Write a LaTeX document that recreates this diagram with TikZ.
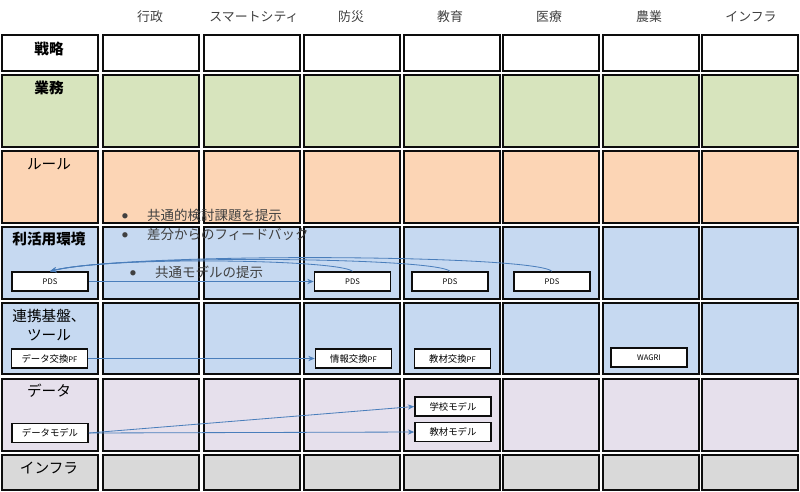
\documentclass[tikz,border=0pt]{standalone}
\usepackage{fontspec}
\setmainfont{Noto Sans CJK JP}
\usepackage{xcolor}
\usetikzlibrary{arrows.meta}
\definecolor{gridline}{HTML}{0D0D0D}
\definecolor{layerwhite}{HTML}{FFFFFF}
\definecolor{layergreen}{HTML}{D7E4BD}
\definecolor{layerorange}{HTML}{FCD5B5}
\definecolor{layerblue}{HTML}{C6D9F1}
\definecolor{layerlilac}{HTML}{E6E0EC}
\definecolor{layergray}{HTML}{D9D9D9}
\definecolor{linkblue}{HTML}{4A7EBB}
\definecolor{textgray}{HTML}{404040}

\newcommand{\smallpf}{{\fontsize{6.5}{7}\selectfont PF}}
\newcommand{\memodot}{\makebox[0.75cm][l]{\raisebox{1.5pt}{\fontsize{5}{5}\selectfont ●}}}

\begin{document}
\begin{tikzpicture}[x=0.03cm, y=-0.03cm, >={Stealth[length=5.5pt, width=4.5pt]},
                    cell/.style={draw=gridline, line width=1.8pt},
                    sectorhead/.style={textgray, font=\fontsize{11}{13}\selectfont},
                    layerhead/.style={black, align=center, font=\fontsize{12.5}{16}\selectfont},
                    strong/.style={font=\bfseries\fontsize{12.5}{16}\selectfont},
                    itembox/.style={draw=gridline, fill=white, line width=1.3pt, inner sep=0pt,
                                 minimum width=2.28cm, minimum height=0.57cm,
                                 font=\fontsize{8}{9}\selectfont},
                    latintext/.style={font=\fontsize{6.5}{7}\selectfont},
                    link/.style={linkblue, line width=0.7pt, ->},
                    memo/.style={textgray, anchor=west, inner sep=0pt,
                                 font=\fontsize{11.5}{13}\selectfont}]

  \useasboundingbox (0,0) rectangle (800,491);

  %% 層ごとのセル(7 層 × 8 列)
  \foreach \ya/\yb/\tone in {35/71/layerwhite, 75/147/layergreen, 151/223/layerorange,
                             227/299/layerblue, 303/374/layerblue, 379/451/layerlilac,
                             455/490/layergray}
    \foreach \xl in {2,103,204,304,404,503,603,702}
      \filldraw[cell, fill=\tone] (\xl,\ya) rectangle (\xl+96,\yb);

  %% 分野の見出し
  \node[sectorhead] (hdgov)   at (150,17) {行政};
  \node[sectorhead] (hdcity)  at (254,17) {スマートシティ};
  \node[sectorhead] (hdsafe)  at (351,17) {防災};
  \node[sectorhead] (hdedu)   at (450,17) {教育};
  \node[sectorhead] (hdmed)   at (549,17) {医療};
  \node[sectorhead] (hdagri)  at (649,17) {農業};
  \node[sectorhead] (hdinfra) at (751,17) {インフラ};

  %% 層の見出し
  \node[layerhead, strong] (lystrat) at (49,49)  {戦略};
  \node[layerhead, strong] (lywork)  at (49,88)  {業務};
  \node[layerhead]         (lyrule)  at (49,164) {ルール};
  \node[layerhead, strong] (lyuse)   at (49,239) {利活用環境};
  \node[layerhead]         (lybase)  at (49,325) {連携基盤、\\ツール};
  \node[layerhead]         (lydata)  at (49,391) {データ};
  \node[layerhead]         (lyinfra) at (49,468) {インフラ};

  %% 補足の箇条書き
  \node[memo] (memoa) at (122,215) {\memodot 共通的検討課題を提示};
  \node[memo] (memob) at (122,234) {\memodot 差分からのフィードバック};
  \node[memo] (memoc) at (130,272) {\memodot 共通モデルの提示};

  %% 利活用環境の PDS
  \node[itembox, latintext] (pdsgov)  at (50,281.5)    {PDS};
  \node[itembox, latintext] (pdssafe) at (352.5,281.5) {PDS};
  \node[itembox, latintext] (pdsedu)  at (450,281.5)   {PDS};
  \node[itembox, latintext] (pdsmed)  at (552,281.5)   {PDS};

  %% 連携基盤・ツール
  \node[itembox] (pfdata) at (49.5,358.5)  {データ交換\smallpf};
  \node[itembox] (pfinfo) at (353.5,358.5) {情報交換\smallpf};
  \node[itembox] (pfedu)  at (452.5,358.5) {教材交換\smallpf};
  \node[itembox, latintext] (wagri) at (649,357.5) {WAGRI};

  %% データモデル
  \node[itembox] (mdschool) at (453,406.5) {学校モデル};
  \node[itembox] (mdbook)   at (453,432)   {教材モデル};
  \node[itembox] (mddata)   at (50,433)    {データモデル};

  %% 共通モデルの提示
  \draw[link] (pdsgov.east) -- (pdssafe.west);
  \draw[link] (pfdata.east) -- (pfinfo.west);
  \draw[link] (mddata.east) -- (mdschool.west);
  \draw[link] (mddata.east) -- (mdbook.west);

  %% 差分からのフィードバック
  \draw[link] (pdssafe.north) .. controls +(-15,-12) and +(60,-15) .. (pdsgov.north);
  \draw[link] (pdsedu.north)  .. controls +(-15,-14) and +(70,-17) .. (pdsgov.north);
  \draw[link] (pdsmed.north)  .. controls +(-20,-17) and +(80,-19) .. (pdsgov.north);

\end{tikzpicture}
\end{document}
